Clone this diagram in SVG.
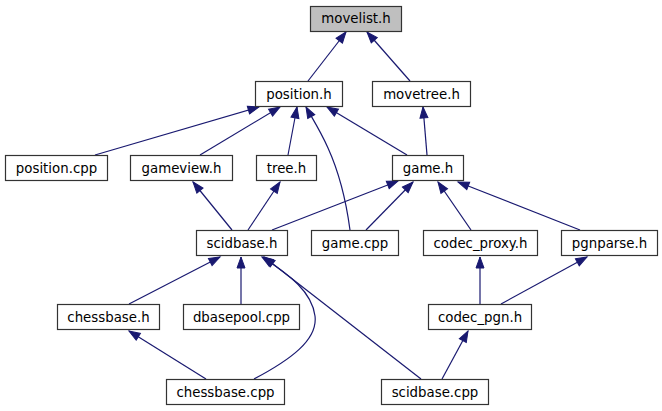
<svg xmlns="http://www.w3.org/2000/svg" width="662" height="411" viewBox="0 0 662 411">
<style>
.n rect{fill:#ffffff;stroke:#333333;stroke-width:1.2}
.n.root rect{fill:#bfbfbf}
.n text{font-family:"DejaVu Sans","Liberation Sans",sans-serif;font-size:13.33px;fill:#000000;text-anchor:middle}
#edges path{fill:none;stroke:#191970;stroke-width:1.2;marker-end:url(#arr)}
</style>
<defs>
<marker id="arr" viewBox="0 -5 12 10" markerWidth="12" markerHeight="10" refX="11" refY="0" orient="auto" markerUnits="userSpaceOnUse" overflow="visible">
<path d="M0,-4L11,0L0,4z" fill="#191970" stroke="#191970" stroke-width="1"/>
</marker>
</defs>
<rect width="662" height="411" fill="#ffffff"/>
<g id="edges">
<path d="M308,81L346,32"/>
<path d="M410,81L367,32"/>
<path d="M95,155L259,107"/>
<path d="M200,155L280,107"/>
<path d="M288,155L297,107"/>
<path d="M350,230C346,200 338,170 328,148C320,130 312,118 306,107"/>
<path d="M407,155L327,107"/>
<path d="M427,155L423,107"/>
<path d="M232,230L193,182"/>
<path d="M248,230L280,182"/>
<path d="M272,230L398,181"/>
<path d="M366,230L413,182"/>
<path d="M471,230L438,182"/>
<path d="M580,230L458,182"/>
<path d="M129,304L220,257"/>
<path d="M241,304L241,257"/>
<path d="M254,379C290,360 318,340 315,316C312,292 290,275 262,257"/>
<path d="M421,379L264,257"/>
<path d="M480,304L480,257"/>
<path d="M501,304L587,257"/>
<path d="M206,379L129,331"/>
<path d="M442,379L468,331"/>
</g>
<g id="movelist_h" class="n root"><rect x="310.5" y="6.5" width="91" height="25"/><text x="356" y="23">movelist.h</text></g>
<g id="position_h" class="n"><rect x="255.5" y="81.5" width="87" height="25"/><text x="299" y="98.5">position.h</text></g>
<g id="movetree_h" class="n"><rect x="372.5" y="81.5" width="98" height="25"/><text x="421.5" y="98.5">movetree.h</text></g>
<g id="position_cpp" class="n"><rect x="5.5" y="155.5" width="102" height="25"/><text x="56.5" y="172.5">position.cpp</text></g>
<g id="gameview_h" class="n"><rect x="130.5" y="155.5" width="102" height="25"/><text x="181.5" y="172.5">gameview.h</text></g>
<g id="tree_h" class="n"><rect x="256.5" y="155.5" width="60" height="25"/><text x="286.5" y="172.5">tree.h</text></g>
<g id="game_h" class="n"><rect x="392.5" y="155.5" width="71" height="25"/><text x="428" y="172.5">game.h</text></g>
<g id="scidbase_h" class="n"><rect x="196.5" y="230.5" width="91" height="25"/><text x="242" y="247.5">scidbase.h</text></g>
<g id="game_cpp" class="n"><rect x="311.5" y="230.5" width="87" height="25"/><text x="355" y="247.5">game.cpp</text></g>
<g id="codec_proxy_h" class="n"><rect x="423.5" y="230.5" width="114" height="25"/><text x="480.5" y="247.5">codec_proxy.h</text></g>
<g id="pgnparse_h" class="n"><rect x="561.5" y="230.5" width="96" height="25"/><text x="609.5" y="247.5">pgnparse.h</text></g>
<g id="chessbase_h" class="n"><rect x="57.5" y="304.5" width="102" height="25"/><text x="108.5" y="321.5">chessbase.h</text></g>
<g id="dbasepool_cpp" class="n"><rect x="183.5" y="304.5" width="116" height="25"/><text x="241.5" y="321.5">dbasepool.cpp</text></g>
<g id="codec_pgn_h" class="n"><rect x="428.5" y="304.5" width="103" height="25"/><text x="480" y="321.5">codec_pgn.h</text></g>
<g id="chessbase_cpp" class="n"><rect x="166.5" y="379.5" width="118" height="25"/><text x="225.5" y="396.5">chessbase.cpp</text></g>
<g id="scidbase_cpp" class="n"><rect x="381.5" y="379.5" width="107" height="25"/><text x="435" y="396.5">scidbase.cpp</text></g>
</svg>
